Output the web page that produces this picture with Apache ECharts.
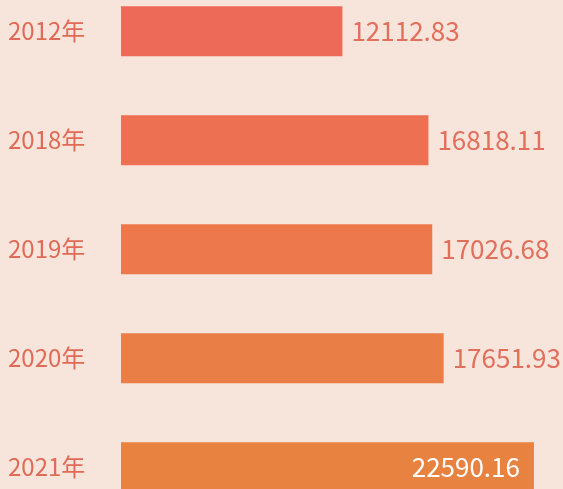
<!DOCTYPE html>
<html>
<head>
<meta charset="utf-8">
<script src="https://cdn.jsdelivr.net/npm/echarts@6/dist/echarts.min.js"></script>
<style>
  html, body { margin: 0; padding: 0; background: #f7e4da; }
  #chart { width: 563px; height: 489px; }
</style>
</head>
<body>
<div id="chart"></div>
<script>
const years = ["2012年", "2018年", "2019年", "2020年", "2021年"];
const values = [12112.83, 16818.11, 17026.68, 17651.93, 22590.16];
const barColors = ["#ed6a58", "#ed7052", "#ec784c", "#ea7e47", "#e88240"];

const chart = echarts.init(document.getElementById("chart"));

// last bar keeps its label inside in white
const barData = values.map((v, i) => {
  const item = { value: v, itemStyle: { color: barColors[i] } };
  if (i === values.length - 1) {
    item.label = { position: "insideRight", distance: 14, color: "#fff" };
  }
  return item;
});

chart.setOption({
  backgroundColor: "#f7e4da",
  animation: false,
  grid: {
    left: 121,
    right: 0,
    top: -23.25,
    height: 545,
    containLabel: false,
    outerBoundsMode: "none"
  },
  xAxis: {
    type: "value",
    min: 0,
    max: 24180,
    show: false
  },
  yAxis: {
    type: "category",
    inverse: true,
    data: years,
    axisLine: { show: false },
    axisTick: { show: false },
    axisLabel: {
      align: "left",
      margin: 113,
      color: "#e06a55",
      fontSize: 24,
      fontFamily: "Noto Sans CJK SC"
    }
  },
  series: [
    {
      type: "bar",
      barWidth: 50,
      data: barData,
      label: {
        show: true,
        position: "right",
        distance: 9,
        color: "#e26e5c",
        fontSize: 26,
        fontFamily: "Noto Sans CJK SC",
        formatter: (p) => p.value.toFixed(2)
      }
    }
  ]
});
</script>
</body>
</html>
